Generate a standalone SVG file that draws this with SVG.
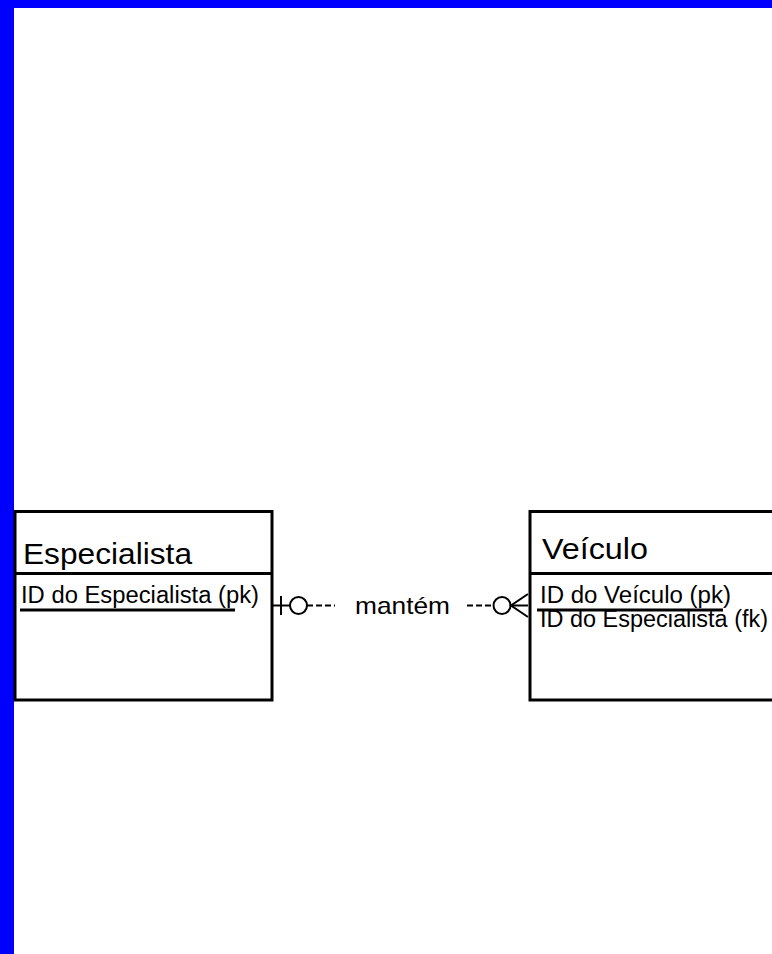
<svg xmlns="http://www.w3.org/2000/svg" width="772" height="954" viewBox="0 0 772 954">
<style>
.box{fill:#fff;stroke:#000;stroke-width:3}
.ln{stroke:#000;stroke-width:3}
.thin{stroke:#000;stroke-width:2;fill:none}
.dash{stroke:#000;stroke-width:2;stroke-dasharray:6 3;fill:none}
.title{font-family:"Liberation Sans",Arial,sans-serif;font-size:29px;fill:#000}
.attr{font-family:"Liberation Sans",Arial,sans-serif;font-size:23px;fill:#000}
.lbl{font-family:"Liberation Sans",Arial,sans-serif;font-size:24px;fill:#000}
</style>
<rect x="0" y="0" width="772" height="954" fill="#fff"/>
<rect x="0" y="0" width="14" height="954" fill="#0000FF"/>
<rect x="0" y="0" width="772" height="8" fill="#0000FF"/>
<g id="especialista">
<rect class="box" x="15" y="511.5" width="257" height="188.5"/>
<line class="ln" x1="15" y1="573.5" x2="272" y2="573.5"/>
<text class="title" x="23" y="564" textLength="169" lengthAdjust="spacingAndGlyphs">Especialista</text>
<text class="attr" x="21" y="603" textLength="238" lengthAdjust="spacingAndGlyphs">ID do Especialista (pk)</text>
<line class="ln" x1="20" y1="610" x2="235" y2="610"/>
</g>
<g id="veiculo">
<rect class="box" x="530" y="511.5" width="260" height="188.5"/>
<line class="ln" x1="530" y1="573.5" x2="790" y2="573.5"/>
<text class="title" x="542" y="559" textLength="106" lengthAdjust="spacingAndGlyphs">Veículo</text>
<text class="attr" x="540" y="603" textLength="191" lengthAdjust="spacingAndGlyphs">ID do Veículo (pk)</text>
<line class="ln" x1="537" y1="610" x2="723" y2="610"/>
<text class="attr" x="540" y="627" textLength="228" lengthAdjust="spacingAndGlyphs">ID do Especialista (fk)</text>
</g>
<g id="connectors">
<line class="thin" x1="273" y1="605.5" x2="290" y2="605.5"/>
<line class="thin" x1="281" y1="596" x2="281" y2="615"/>
<circle class="thin" cx="298.5" cy="605.5" r="8.5"/>
<line class="dash" x1="307" y1="605.5" x2="335" y2="605.5"/>
<text class="lbl" x="355" y="614" textLength="95" lengthAdjust="spacingAndGlyphs">mantém</text>
<line class="dash" x1="467" y1="605.5" x2="493" y2="605.5"/>
<circle class="thin" cx="502" cy="605.5" r="8.5"/>
<polyline class="thin" points="528,594 511,605.5 528,617"/>
<line class="thin" x1="511" y1="605.5" x2="528" y2="605.5"/>
</g>
</svg>
